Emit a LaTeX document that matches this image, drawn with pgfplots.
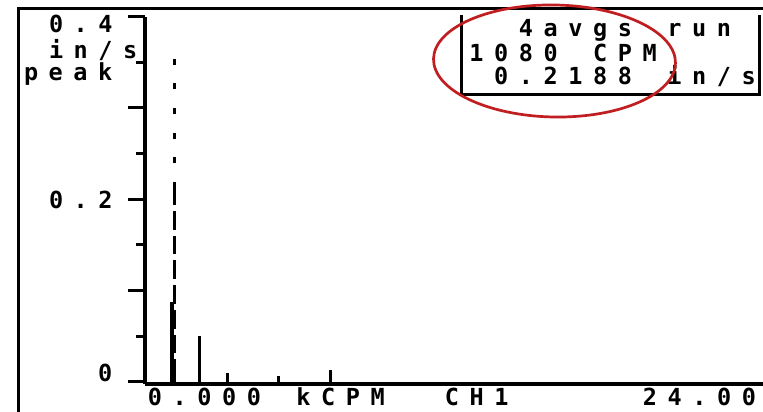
\documentclass[border=0pt]{standalone}
\usepackage{pgfplots}
\pgfplotsset{compat=1.18}
\usepackage{fontspec}
\newfontfamily\lcd{DejaVu Sans Mono}
\definecolor{annot}{RGB}{192,30,32}
\newcommand\lcdend{}
\newcommand\cell[1]{\makebox[24.75pt][c]{#1}}
\def\lcdstr#1{\lcdloop#1\lcdend}
\def\lcdloop#1{\ifx\lcdend#1\else\cell{#1}\expandafter\lcdloop\fi}
\newcommand\lcdtext[1]{{\lcd\bfseries\fontsize{23.5pt}{24pt}\selectfont\lcdstr{#1}}}
\begin{document}
\begin{tikzpicture}[x=1pt,y=1pt]
\useasboundingbox (0,0) rectangle (763,412);
\fill[white] (0,0) rectangle (763,412);
\begin{axis}[
  at={(145pt,27.8pt)}, anchor=south west,
  scale only axis, width=618pt, height=367.6pt,
  xmin=-0.06, xmax=24.2, ymin=-0.0025, ymax=0.4,
  axis x line*=bottom, axis y line*=left,
  axis line style={-, black, line width=3.4pt},
  xtick=\empty,
  ytick={0,0.1,0.2,0.3,0.4},
  minor ytick={0.05,0.15,0.25,0.35},
  yticklabels={,,,,},
  tick align=outside,
  major tick length=17pt, minor tick length=8.5pt,
  every tick/.style={black, line width=3pt},
  clip=false,
]
% neighbouring bins of the 1x peak
\addplot[ycomb, black, line width=2.2pt, mark=none] coordinates {(0.96,0.087) (1.02,0.087)};
% other spectral lines
\addplot[ycomb, black, line width=3pt, mark=none] coordinates {(2.06,0.0503) (3.16,0.0099) (5.20,0.0070) (7.24,0.0135)};
% cursor above the peak (dotted)
\addplot[black, line width=3pt, dash pattern=on 6pt off 18.7pt] coordinates {(1.08,0.354) (1.08,0.2188)};
% peak at the cursor, 1080 CPM, 0.2188 in/s (XOR with the cursor)
\addplot[black, line width=3pt, dash pattern=on 23pt off 6pt on 18.7pt off 6pt on 18.7pt off 6pt on 18.7pt off 6pt on 18.7pt off 6pt on 18.7pt off 6pt on 18.7pt off 6pt on 30pt] coordinates {(1.08,0.2188) (1.08,0)};
\end{axis}
% outer frame
\draw[black, line width=2.8pt, line join=miter] (18.3,0) -- (18.3,403.4) -- (763,403.4);
% readout box
\draw[black, line width=3.2pt, line join=miter] (461.7,397) -- (461.7,317.5) -- (759.2,317.5) -- (759.2,397);
% y labels
\node[anchor=base west, inner sep=0, outer sep=0] at (43.7,379) {\lcdtext{0.4}};
\node[anchor=base west, inner sep=0, outer sep=0] at (43.7,353) {\lcdtext{in/s}};
\node[anchor=base west, inner sep=0, outer sep=0] at (18.7,331) {\lcdtext{peak}};
\node[anchor=base west, inner sep=0, outer sep=0] at (43.7,203) {\lcdtext{0.2}};
\node[anchor=base west, inner sep=0, outer sep=0] at (92.7,30) {\lcdtext{0}};
% x label line
\node[anchor=base west, inner sep=0, outer sep=0] at (142.6,6) {\lcdtext{0.000~kCPM~~CH1~~~~~24.00}};
% readout
\node[anchor=base west, inner sep=0, outer sep=0] at (464,375) {\lcdtext{~~4avgs~run}};
\node[anchor=base west, inner sep=0, outer sep=0] at (464,350) {\lcdtext{1080~CPM}};
\node[anchor=base west, inner sep=0, outer sep=0] at (464,327) {\lcdtext{~0.2188~in/s}};
% red annotation ellipse
\draw[annot, line width=2.7pt, rotate around={-1:(554.5,351)}] (554.5,351) ellipse [x radius=121, y radius=56];
\end{tikzpicture}
\end{document}
